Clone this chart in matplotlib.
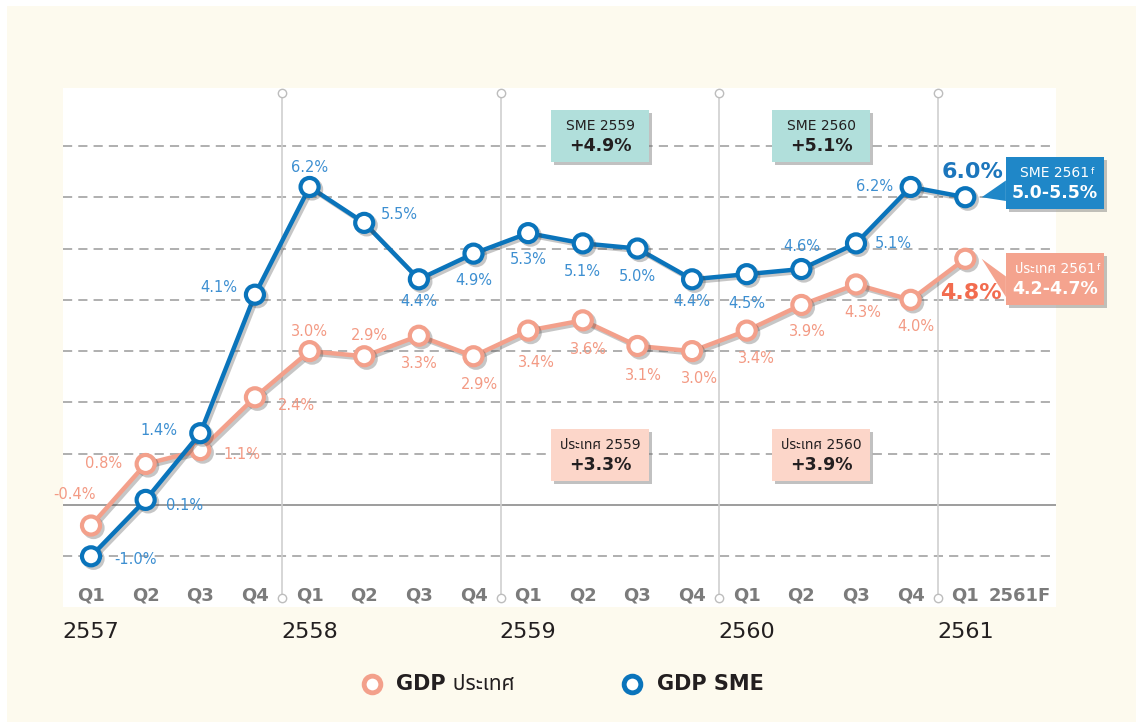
import matplotlib
matplotlib.use("Agg")
import matplotlib.pyplot as plt
import matplotlib.patheffects as pe
from matplotlib.patches import Rectangle, Polygon

plt.rcParams["font.family"] = ["DejaVu Sans", "Noto Sans", "Noto Sans Thai", "Loma", "Garuda"]

quarters = ["Q1", "Q2", "Q3", "Q4"] * 4 + ["Q1"]
years = ["2557", "2558", "2559", "2560", "2561"]
gdp = [-0.4, 0.8, 1.07, 2.1, 3.0, 2.9, 3.3, 2.9, 3.4, 3.6, 3.1, 3.0, 3.4, 3.9, 4.3, 4.0, 4.8]
gdp_labels = ["-0.4%", "0.8%", "1.1%", "2.4%", "3.0%", "2.9%", "3.3%", "2.9%", "3.4%",
              "3.6%", "3.1%", "3.0%", "3.4%", "3.9%", "4.3%", "4.0%", "4.8%"]
sme = [-1.0, 0.1, 1.4, 4.1, 6.2, 5.5, 4.4, 4.9, 5.3, 5.1, 5.0, 4.4, 4.5, 4.6, 5.1, 6.2, 6.0]
sme_labels = ["-1.0%", "0.1%", "1.4%", "4.1%", "6.2%", "5.5%", "4.4%", "4.9%", "5.3%",
              "5.1%", "5.0%", "4.4%", "4.5%", "4.6%", "5.1%", "6.2%", "6.0%"]

# label offsets in points (dx, dy)
gdp_off = [(-12, 22), (-30, 0), (30, -3), (30, -6), (0, 14), (4, 15), (0, -20), (4, -20), (6, -23),
           (4, -21), (4, -21), (5, -20), (7, -20), (4, -19), (5, -20), (4, -19), (4, -24)]
sme_off = [(32, -2), (28, -4), (-30, 2), (-26, 5), (0, 14), (25, 6), (0, -16), (0, -19), (0, -19),
           (0, -20), (0, -20), (0, -16), (0, -21), (0, 16), (27, 0), (-26, 0), (0, 18)]

BLUE = "#0a74bb"
BLUE_TXT = "#3d8fd1"
SALMON = "#f3a08b"
SALMON_TXT = "#f39a84"
CREAM = "#fdfaee"
GRID = "#9a9a9a"

fig = plt.figure(figsize=(11.36, 7.22), dpi=100)
fig.patches.append(Rectangle((7 / 1136, 0), 1, 1 - 6 / 722, transform=fig.transFigure,
                             facecolor=CREAM, edgecolor="none", zorder=-10))
ax = fig.add_axes([63 / 1136, 1 - 607 / 722, 993 / 1136, 519 / 722])
ax.set_xlim(-0.5126, 17.66)
ax.set_ylim(-1.988, 8.129)
ax.set_facecolor("white")
for s in ax.spines.values():
    s.set_visible(False)
ax.set_xticks([])
ax.set_yticks([])

for g in range(-1, 8):
    if g == 0:
        ax.axhline(0, color="#8c8c8c", lw=1.2, zorder=1)
    else:
        ax.axhline(g, color=GRID, lw=1.1, ls=(0, (6, 4)), zorder=1)

for xv in [3.5, 7.5, 11.5, 15.5]:
    ax.plot([xv, xv], [-1.81, 8.03], color="#cfcfcf", lw=1.2, zorder=1)
    ax.plot([xv, xv], [-1.81, 8.03], ls="none", marker="o", ms=6, mfc="white",
            mec="#bdbdbd", mew=1, zorder=2)

xs = list(range(len(sme)))
shadow = [pe.SimpleLineShadow(offset=(1.8, -1.8), shadow_color="#444444", alpha=0.3), pe.Normal()]
ax.plot(xs, gdp, color=SALMON, lw=3.2, marker="o", ms=13, mfc="white", mec=SALMON, mew=3,
        zorder=3, path_effects=shadow)
ax.plot(xs, sme, color=BLUE, lw=3.2, marker="o", ms=13, mfc="white", mec=BLUE, mew=3,
        zorder=4, path_effects=shadow)

for i in range(len(gdp) - 1):
    ax.annotate(gdp_labels[i], (i, gdp[i]), xytext=gdp_off[i], textcoords="offset points",
                ha="center", va="center", color=SALMON_TXT, fontsize=10.5, zorder=5)
for i in range(len(sme) - 1):
    ax.annotate(sme_labels[i], (i, sme[i]), xytext=sme_off[i], textcoords="offset points",
                ha="center", va="center", color=BLUE_TXT, fontsize=10.5, zorder=5)
ax.annotate(sme_labels[-1], (16, sme[-1]), xytext=(5, 18), textcoords="offset points",
            ha="center", va="center", color="#1c76bc", fontsize=16, fontweight="bold", zorder=5)
ax.annotate(gdp_labels[-1], (16, gdp[-1]), xytext=(4, -25), textcoords="offset points",
            ha="center", va="center", color="#f26c4f", fontsize=16, fontweight="bold", zorder=5)

# quarter labels
for i, q in enumerate(quarters):
    ax.text(i, -1.77, q, ha="center", va="center", color="#7b7b7b", fontsize=13,
            fontweight="bold")
ax.text(17.0, -1.77, "2561F", ha="center", va="center", color="#7b7b7b", fontsize=13,
        fontweight="bold")
for j, y in enumerate(years):
    ax.text(j * 4, -2.48, y, ha="center", va="center", color="#231f20", fontsize=16,
            clip_on=False)


def box(xc, yc, w, h, fc, top, bottom, tc, pointer=None, sup=False):
    ax.add_patch(Rectangle((xc - w / 2 + 0.05, yc - h / 2 - 0.06), w, h, facecolor="#777777",
                           edgecolor="none", alpha=0.45, zorder=6, clip_on=False))
    ax.add_patch(Rectangle((xc - w / 2, yc - h / 2), w, h, facecolor=fc, edgecolor="none",
                           zorder=7, clip_on=False))
    if pointer is not None:
        ax.add_patch(Polygon([pointer, (xc - w / 2, yc + 0.05), (xc - w / 2, yc - 0.35)],
                             facecolor=fc, edgecolor="none", zorder=7, clip_on=False))
    t = ax.text(xc, yc + h * 0.2, top, ha="center", va="center", fontsize=10, color=tc,
                zorder=8, clip_on=False)
    if sup:
        ax.annotate("f", xy=(1, 1), xycoords=t, xytext=(1, -1), textcoords="offset points",
                    ha="left", va="top", fontsize=6.5, color=tc, zorder=8)
    ax.text(xc, yc - h * 0.2, bottom, ha="center", va="center", fontsize=12.5,
            fontweight="bold", color=tc, zorder=8, clip_on=False)


bw = 98 / 54.625
bh = 52 / 51.3
box(9.32, (505 - 136) / 51.3, bw, bh, "#b1dfdb", "SME 2559", "+4.9%", "#231f20")
box(13.36, (505 - 136) / 51.3, bw, bh, "#b1dfdb", "SME 2560", "+5.1%", "#231f20")
box(9.32, (505 - 455) / 51.3, bw, bh, "#fcd6c9", "ประเทศ 2559", "+3.3%", "#231f20")
box(13.36, (505 - 455) / 51.3, bw, bh, "#fcd6c9", "ประเทศ 2560", "+3.9%", "#231f20")
box(17.64, (505 - 183) / 51.3, bw, bh, "#1f87c8", "SME 2561", "5.0-5.5%",
    "white", pointer=(16.3, sme[-1]), sup=True)
box(17.64, (505 - 279) / 51.3, bw, bh, "#f4a38e", "ประเทศ 2561", "4.2-4.7%",
    "white", pointer=(16.3, gdp[-1]), sup=True)

# legend
fig.lines.append(plt.Line2D([372 / 1136], [1 - 684 / 722], transform=fig.transFigure,
                            marker="o", ms=12, mfc="white", mec=SALMON, mew=3.5))
fig.lines.append(plt.Line2D([632 / 1136], [1 - 684 / 722], transform=fig.transFigure,
                            marker="o", ms=12, mfc="white", mec=BLUE, mew=3.5))
fig.text(396 / 1136, 1 - 684 / 722, "GDP ประเทศ", ha="left", va="center", fontsize=15,
         fontweight="bold", color="#231f20")
fig.text(657 / 1136, 1 - 684 / 722, "GDP SME", ha="left", va="center", fontsize=15,
         fontweight="bold", color="#231f20")

fig.savefig("out.png", dpi=100, facecolor="white")
